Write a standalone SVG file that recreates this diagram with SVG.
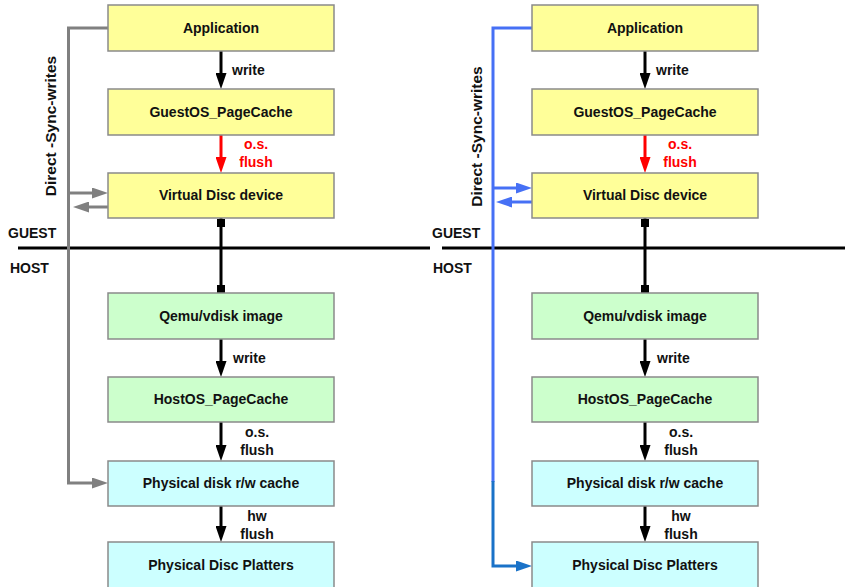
<svg xmlns="http://www.w3.org/2000/svg" width="845" height="587" viewBox="0 0 845 587">
<style>
.box{stroke:#8a8a8a;stroke-width:1.5}
.y{fill:#ffff99}.g{fill:#ccffcc}.c{fill:#ccffff}
text{font-family:"Liberation Sans",Arial,sans-serif;font-weight:bold;font-size:14px;fill:#111}
.t{text-anchor:middle}
.red{fill:#ff0000}
.blk{stroke:#000;stroke-width:3;fill:none}
.rd{stroke:#ff0000;stroke-width:3;fill:none}
.gr{stroke:#808080;stroke-width:3;fill:none}
.bl{stroke:#4670f5;stroke-width:3;fill:none}
.bd{stroke:#1a72c8;stroke-width:3;fill:none}
</style>
<defs>
<marker id="ak" markerUnits="userSpaceOnUse" markerWidth="16" markerHeight="11" refX="8" refY="5.5" orient="auto"><path d="M0,0 L16,5.5 L0,11 z" fill="#000"/></marker>
<marker id="ar" markerUnits="userSpaceOnUse" markerWidth="16" markerHeight="11" refX="8" refY="5.5" orient="auto"><path d="M0,0 L16,5.5 L0,11 z" fill="#ff0000"/></marker>
<marker id="ag" markerUnits="userSpaceOnUse" markerWidth="16" markerHeight="11" refX="8" refY="5.5" orient="auto"><path d="M0,0 L16,5.5 L0,11 z" fill="#808080"/></marker>
<marker id="ab" markerUnits="userSpaceOnUse" markerWidth="16" markerHeight="11" refX="8" refY="5.5" orient="auto"><path d="M0,0 L16,5.5 L0,11 z" fill="#4670f5"/></marker>
<marker id="ad" markerUnits="userSpaceOnUse" markerWidth="16" markerHeight="11" refX="8" refY="5.5" orient="auto"><path d="M0,0 L16,5.5 L0,11 z" fill="#1a72c8"/></marker>
</defs>
<rect width="845" height="587" fill="#fff"/>

<g id="divider">
<line x1="18" y1="248" x2="430" y2="248" stroke="#000" stroke-width="3"/>
<line x1="442" y1="248" x2="845" y2="248" stroke="#000" stroke-width="3"/>
<text x="8" y="238">GUEST</text>
<text x="10" y="273">HOST</text>
<text x="432" y="238">GUEST</text>
<text x="433" y="273">HOST</text>
</g>

<g id="connectors">
<!-- left column -->
<line class="blk" x1="221" y1="51" x2="221" y2="81" marker-end="url(#ak)"/>
<line class="rd" x1="221" y1="135" x2="221" y2="165" marker-end="url(#ar)"/>
<line class="blk" x1="221" y1="218" x2="221" y2="293"/>
<rect x="217" y="219" width="8" height="8" fill="#000"/>
<rect x="217" y="285" width="8" height="8" fill="#000"/>
<line class="blk" x1="221" y1="339" x2="221" y2="369" marker-end="url(#ak)"/>
<line class="blk" x1="221" y1="422" x2="221" y2="453" marker-end="url(#ak)"/>
<line class="blk" x1="221" y1="506" x2="221" y2="534" marker-end="url(#ak)"/>
<path class="gr" d="M108,28 H68.5 V483 H100" marker-end="url(#ag)"/>
<path class="gr" d="M68.5,193 H100" marker-end="url(#ag)"/>
<path class="gr" d="M108,207 H81" marker-end="url(#ag)"/>
<!-- right column -->
<line class="blk" x1="645" y1="51" x2="645" y2="81" marker-end="url(#ak)"/>
<line class="rd" x1="645" y1="135" x2="645" y2="165" marker-end="url(#ar)"/>
<line class="blk" x1="645" y1="218" x2="645" y2="293"/>
<rect x="641" y="219" width="8" height="8" fill="#000"/>
<rect x="641" y="285" width="8" height="8" fill="#000"/>
<line class="blk" x1="645" y1="339" x2="645" y2="369" marker-end="url(#ak)"/>
<line class="blk" x1="645" y1="422" x2="645" y2="453" marker-end="url(#ak)"/>
<line class="blk" x1="645" y1="506" x2="645" y2="534" marker-end="url(#ak)"/>
<path class="bl" d="M532,28 H493 V482"/>
<path class="bd" d="M493,481 V566 H524" marker-end="url(#ad)"/>
<path class="bl" d="M493,188 H524" marker-end="url(#ab)"/>
<path class="bl" d="M532,202 H504" marker-end="url(#ab)"/>
<!-- labels -->
<text x="232" y="75">write</text>
<text class="t red" x="256" y="149">o.s.</text>
<text class="t red" x="256" y="167">flush</text>
<text x="233" y="363">write</text>
<text class="t" x="257" y="437">o.s.</text>
<text class="t" x="257" y="455">flush</text>
<text class="t" x="257" y="521">hw</text>
<text class="t" x="257" y="539">flush</text>
<text x="656" y="75">write</text>
<text class="t red" x="680" y="149">o.s.</text>
<text class="t red" x="680" y="167">flush</text>
<text x="657" y="363">write</text>
<text class="t" x="681" y="437">o.s.</text>
<text class="t" x="681" y="455">flush</text>
<text class="t" x="681" y="521">hw</text>
<text class="t" x="681" y="539">flush</text>
<text class="t" style="font-size:15.5px" transform="translate(56,126) rotate(-90)">Direct -Sync-writes</text>
<text class="t" style="font-size:15.5px" transform="translate(482,136.5) rotate(-90)">Direct -Sync-writes</text>
</g>

<g id="l-app"><rect class="box y" x="108" y="5" width="226" height="46"/><text class="t" x="221" y="33">Application</text></g>
<g id="l-guestcache"><rect class="box y" x="108" y="89" width="226" height="46"/><text class="t" x="221" y="117">GuestOS_PageCache</text></g>
<g id="l-vdisc"><rect class="box y" x="108" y="173" width="226" height="45"/><text class="t" x="221" y="200">Virtual Disc device</text></g>
<g id="l-qemu"><rect class="box g" x="108" y="293" width="226" height="46"/><text class="t" x="221" y="321">Qemu/vdisk image</text></g>
<g id="l-hostcache"><rect class="box g" x="108" y="377" width="226" height="45"/><text class="t" x="221" y="404">HostOS_PageCache</text></g>
<g id="l-diskcache"><rect class="box c" x="108" y="461" width="226" height="45"/><text class="t" x="221" y="488">Physical disk r/w cache</text></g>
<g id="l-platters"><rect class="box c" x="108" y="542" width="226" height="46"/><text class="t" x="221" y="570">Physical Disc Platters</text></g>

<g id="r-app"><rect class="box y" x="532" y="5" width="226" height="46"/><text class="t" x="645" y="33">Application</text></g>
<g id="r-guestcache"><rect class="box y" x="532" y="89" width="226" height="46"/><text class="t" x="645" y="117">GuestOS_PageCache</text></g>
<g id="r-vdisc"><rect class="box y" x="532" y="173" width="226" height="45"/><text class="t" x="645" y="200">Virtual Disc device</text></g>
<g id="r-qemu"><rect class="box g" x="532" y="293" width="226" height="46"/><text class="t" x="645" y="321">Qemu/vdisk image</text></g>
<g id="r-hostcache"><rect class="box g" x="532" y="377" width="226" height="45"/><text class="t" x="645" y="404">HostOS_PageCache</text></g>
<g id="r-diskcache"><rect class="box c" x="532" y="461" width="226" height="45"/><text class="t" x="645" y="488">Physical disk r/w cache</text></g>
<g id="r-platters"><rect class="box c" x="532" y="542" width="226" height="46"/><text class="t" x="645" y="570">Physical Disc Platters</text></g>
</svg>
